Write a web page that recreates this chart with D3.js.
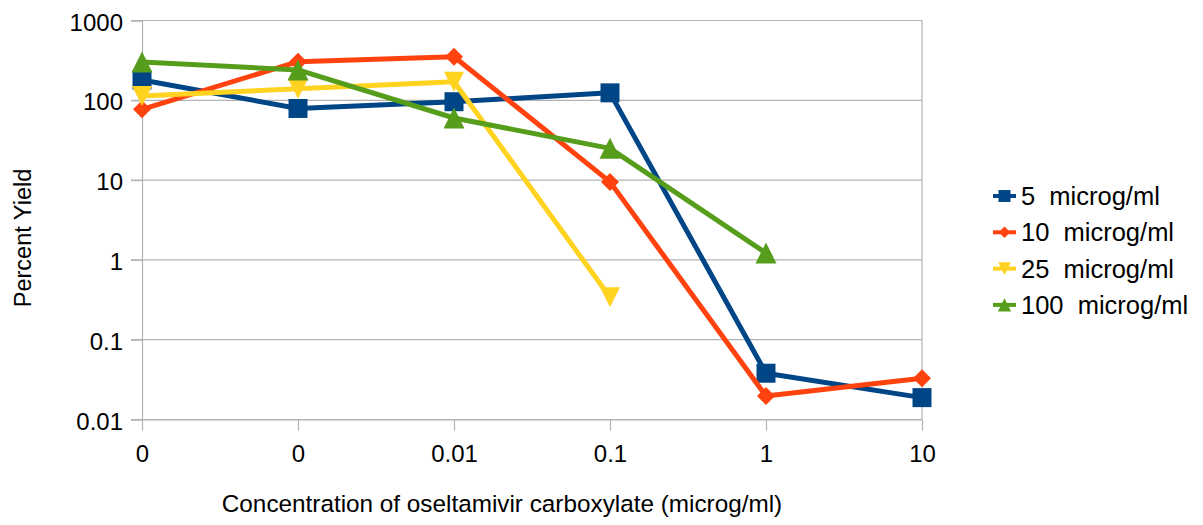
<!DOCTYPE html>
<html>
<head>
<meta charset="utf-8">
<script src="https://cdn.jsdelivr.net/npm/d3@7"></script>
<style>
  body { margin: 0; background: #fff; }
  text { font-family: "Liberation Sans", Arial, sans-serif; fill: #000; }
</style>
</head>
<body>
<svg id="chart" width="1203" height="525"></svg>
<script>
// chart data
const concLabels = ["0", "0", "0.01", "0.1", "1", "10"];
const yTicks = [0.01, 0.1, 1, 10, 100, 1000];
const seriesNames = ["5  microg/ml", "10  microg/ml", "25  microg/ml", "100  microg/ml"];
const yield5 = [180, 79, 96, 124, 0.038, 0.0188];
const yield10 = [77, 305, 352, 9.5, 0.0197, 0.0328];
const yield25 = [113, 140, 171, 0.34, null, null];
const yield100 = [302, 240, 60, 25, 1.22, null];

const colors = ["#004586", "#ff420e", "#ffd320", "#579d1c"];

// marker shapes like the office suite uses
const diamond = {
  draw(ctx, size) {
    const r = Math.sqrt(size) / 2;
    ctx.moveTo(0, -r); ctx.lineTo(r, 0); ctx.lineTo(0, r); ctx.lineTo(-r, 0); ctx.closePath();
  }
};
const triDown = {
  draw(ctx, size) {
    const r = Math.sqrt(size) / 2;
    ctx.moveTo(-r, -r); ctx.lineTo(r, -r); ctx.lineTo(0, r); ctx.closePath();
  }
};
const triUp = {
  draw(ctx, size) {
    const r = Math.sqrt(size) / 2;
    ctx.moveTo(0, -r); ctx.lineTo(r, r); ctx.lineTo(-r, r); ctx.closePath();
  }
};
const shapes = [d3.symbolSquare, diamond, triDown, triUp];
const markerSize = [19 * 19, 18 * 18, 20 * 20, 21 * 21];

const series = [yield5, yield10, yield25, yield100].map((vals, i) => ({
  name: seriesNames[i],
  color: colors[i],
  shape: shapes[i],
  size: markerSize[i],
  values: vals.map((v, j) => ({ i: j, v })).filter(d => d.v != null)
}));

const svg = d3.select("#chart");
const plotLeft = 142, plotRight = 922, plotTop = 20.5, plotBottom = 419.5;

const x = d3.scalePoint()
  .domain(d3.range(concLabels.length))
  .range([plotLeft, plotRight]);

const y = d3.scaleLog()
  .domain([0.01, 1000])
  .range([plotBottom, plotTop]);

const grid = "#b3b3b3";

// horizontal grid
svg.append("g")
  .selectAll("line")
  .data(yTicks)
  .join("line")
  .attr("x1", plotLeft - 11)
  .attr("x2", plotRight)
  .attr("y1", d => y(d))
  .attr("y2", d => y(d))
  .attr("stroke", grid)
  .attr("stroke-width", 1.2);

// right border
svg.append("line")
  .attr("x1", plotRight).attr("x2", plotRight)
  .attr("y1", plotTop).attr("y2", plotBottom)
  .attr("stroke", grid).attr("stroke-width", 1.2);

// y axis
const yAxis = svg.append("g")
  .attr("transform", `translate(${plotLeft},0)`)
  .call(d3.axisLeft(y).tickValues(yTicks).tickFormat(d3.format("~g")).tickSize(11).tickPadding(8));
yAxis.selectAll("path, line").attr("stroke", grid).attr("stroke-width", 1.2);
yAxis.selectAll("text")
  .style("font-size", "24px")
  .attr("font-family", null)
  .attr("dy", "0.4em");

// x axis
const xAxis = svg.append("g")
  .attr("transform", `translate(0,${plotBottom})`)
  .call(d3.axisBottom(x).tickFormat(i => concLabels[i]).tickSize(11).tickSizeOuter(0).tickPadding(14));
xAxis.selectAll("path, line").attr("stroke", grid).attr("stroke-width", 1.2);
xAxis.selectAll("text")
  .style("font-size", "24px")
  .attr("font-family", null);

// axis titles
svg.append("text")
  .attr("x", 502)
  .attr("y", 512)
  .attr("text-anchor", "middle")
  .style("font-size", "24.3px")
  .text("Concentration of oseltamivir carboxylate (microg/ml)");

svg.append("text")
  .attr("transform", "translate(31,238) rotate(-90)")
  .attr("text-anchor", "middle")
  .style("font-size", "23.5px")
  .text("Percent Yield");

// lines and markers
const line = d3.line()
  .x(d => x(d.i))
  .y(d => y(d.v));

const sg = svg.append("g")
  .selectAll("g")
  .data(series)
  .join("g");

sg.append("path")
  .attr("d", d => line(d.values))
  .attr("fill", "none")
  .attr("stroke", d => d.color)
  .attr("stroke-width", 5)
  .attr("stroke-linejoin", "round");

sg.each(function (s) {
  d3.select(this).selectAll("path.mark")
    .data(s.values)
    .join("path")
    .attr("class", "mark")
    .attr("transform", d => `translate(${x(d.i)},${y(d.v)})`)
    .attr("d", d3.symbol().type(s.shape).size(s.size))
    .attr("fill", s.color);
});

// legend
const legend = svg.append("g")
  .attr("transform", "translate(993,196)");

const item = legend.selectAll("g")
  .data(series)
  .join("g")
  .attr("transform", (d, i) => `translate(0,${i * 36.3})`);

item.append("line")
  .attr("x1", 0).attr("x2", 23)
  .attr("stroke", d => d.color)
  .attr("stroke-width", 4);

item.append("path")
  .attr("transform", "translate(11.5,0)")
  .attr("d", d => d3.symbol().type(d.shape).size(d.size * 0.4)())
  .attr("fill", d => d.color);

item.append("text")
  .attr("x", 28)
  .attr("dy", "0.36em")
  .attr("xml:space", "preserve")
  .style("white-space", "pre")
  .style("font-size", "25.5px")
  .text(d => d.name);
</script>
</body>
</html>
